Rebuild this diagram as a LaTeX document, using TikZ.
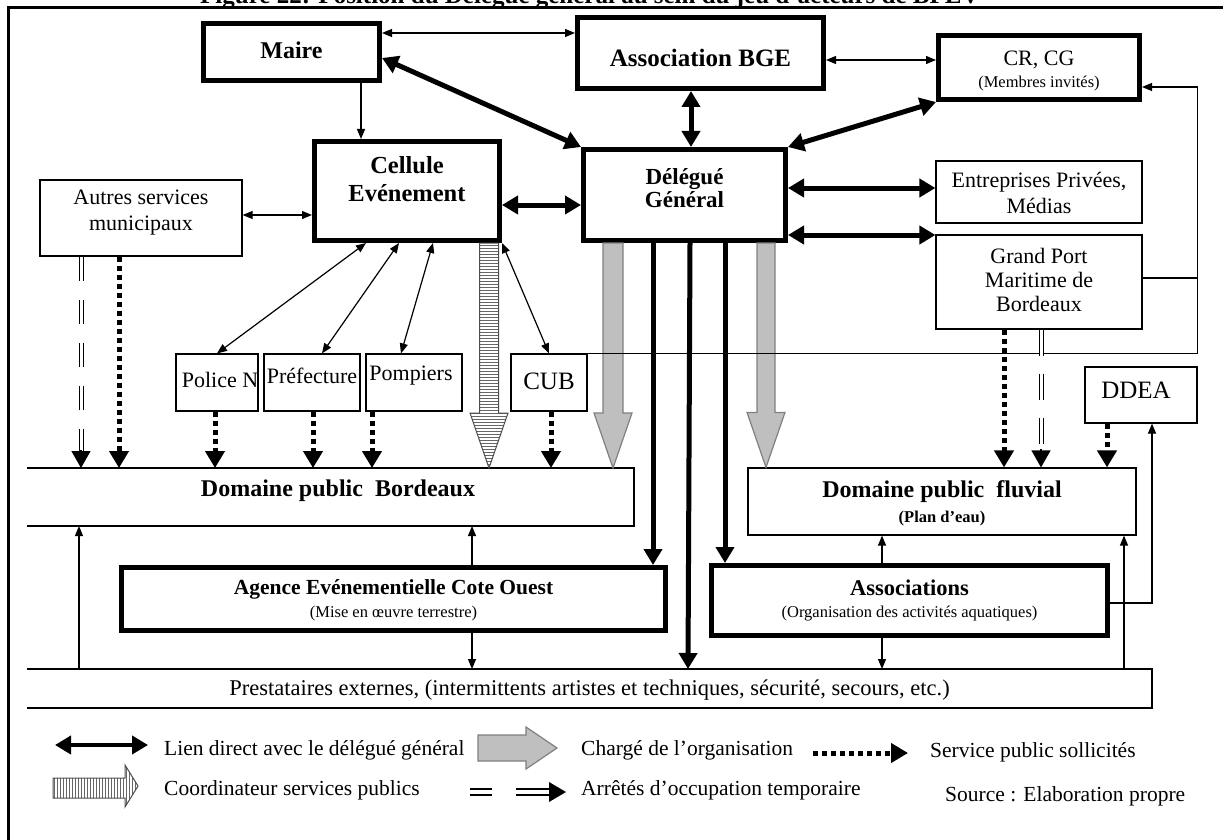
\documentclass[tikz,border=0pt]{standalone}
\usepackage{fontspec}
\setmainfont{Liberation Serif}
\usetikzlibrary{arrows.meta,calc,patterns}
\newcommand\petit{\fontsize{16.5}{19}\selectfont}
\newcommand\mkdownarrow[5]{%
  \draw[#1] let \p1=#2, \p2=#3 in
    (\x1-#4,\y1) -- (\x1-#4,\y2+55pt) -- (\x1-#5,\y2+55pt) -- (\x1,\y2)
    -- (\x1+#5,\y2+55pt) -- (\x1+#4,\y2+55pt) -- (\x1+#4,\y1) -- cycle;}
\begin{document}
\begin{tikzpicture}[x=1pt,y=-1pt,
  thickbox/.style={draw, line width=5pt, inner sep=0pt},
  thinbox/.style={draw, line width=1.2pt, inner sep=0pt},
  openbox/.style={inner sep=0pt, outer sep=0pt},
  lbl/.style={align=center, inner sep=0pt, text=black},
  legtxt/.style={inner sep=0pt, anchor=west, font=\fontsize{21.5}{24}\selectfont},
  conn/.style={line width=1.2pt},
  bigconn/.style={line width=5pt},
  sa/.tip={Triangle[length=10pt,width=8pt]},
  ba/.tip={Triangle[length=16pt,width=18pt]},
  da/.tip={Triangle[length=17pt,width=19pt]},
  dotconn/.style={line width=5pt, dash pattern=on 5pt off 4pt, -da},
  dblconn/.style={double, line width=1pt, double distance=3pt},
  greyarr/.style={fill=gray!50, draw=gray, line width=1.2pt},
  stripearr/.style={draw=black!70, line width=1pt, pattern=horizontal lines, pattern color=black!60},
]
\useasboundingbox (0,0) rectangle (1223,840);

% frame and (cut) title
\draw[line width=2.2pt] (8.5,850) -- (8.5,7.5) -- (1230,7.5);
\node[anchor=base west, inner sep=0pt, font=\fontsize{25}{25}\selectfont\bfseries] (title) at (200,3.5)
  {Figure 22: Position du Délégué général au sein du jeu d'acteurs de BPEV};

% ---------- nodes ----------
\node[thickbox, minimum width=176pt, minimum height=57pt,
  label={[lbl,font=\fontsize{24}{26}\selectfont\bfseries,yshift=2pt]center:Maire}] (maire) at (291.5,52) {};
\node[thickbox, minimum width=246pt, minimum height=71pt,
  label={[lbl,font=\fontsize{25}{26}\selectfont\bfseries,yshift=-4.5pt]center:Association BGE}] (bge) at (700.5,53) {};
\node[thickbox, minimum width=201pt, minimum height=64pt,
  label={[lbl,font=\fontsize{22}{22}\selectfont,yshift=-3.5pt]center:CR, CG\\{\petit(Membres invités)}}] (crcg) at (1039,67.5) {};
\node[thickbox, minimum width=202pt, minimum height=91pt,
  label={[lbl,font=\fontsize{23}{23}\selectfont\bfseries,yshift=6.5pt]center:Délégué\\Général}] (deleg) at (684.5,195) {};
\node[thickbox, minimum width=185pt, minimum height=99pt,
  label={[lbl,font=\fontsize{24.5}{28}\selectfont\bfseries,yshift=12pt]center:Cellule\\Evénement}] (cellule) at (407,191) {};
\node[thinbox, minimum width=202pt, minimum height=76pt,
  label={[lbl,font=\fontsize{22}{26}\selectfont,yshift=5pt]center:Autres services\\municipaux}] (autres) at (141,218) {};
\node[thinbox, minimum width=206pt, minimum height=62pt,
  label={[lbl,font=\fontsize{22}{26}\selectfont,yshift=-1pt]center:Entreprises Privées,\\Médias}] (entr) at (1039,192) {};
\node[thinbox, minimum width=206pt, minimum height=94pt,
  label={[lbl,font=\fontsize{22}{24}\selectfont,yshift=2pt]center:Grand Port\\Maritime de\\Bordeaux}] (gpmb) at (1039,282) {};

\node[thinbox, minimum width=82pt, minimum height=57pt,
  label={[lbl,font=\fontsize{22}{24}\selectfont,yshift=3pt,xshift=3pt]center:Police N}] (police) at (217,382.5) {};
\node[thinbox, minimum width=96pt, minimum height=57pt,
  label={[lbl,font=\fontsize{22}{24}\selectfont,yshift=6.5pt]center:Préfecture}] (pref) at (312,382.5) {};
\node[thinbox, minimum width=96pt, minimum height=57pt,
  label={[lbl,font=\fontsize{22}{24}\selectfont,yshift=6.5pt,xshift=-3pt]center:Pompiers}] (pomp) at (414,382.5) {};
\node[thinbox, minimum width=76pt, minimum height=57pt,
  label={[lbl,font=\fontsize{25}{26}\selectfont,yshift=1.5pt]center:CUB}] (cub) at (549,382.5) {};
\node[thinbox, minimum width=112pt, minimum height=56pt,
  label={[lbl,font=\fontsize{25}{26}\selectfont,yshift=5pt,xshift=-5pt]center:DDEA}] (ddea) at (1141,395) {};

\node[openbox, minimum width=607pt, minimum height=58pt,
  label={[lbl,font=\fontsize{24}{24}\selectfont\bfseries,yshift=6pt,xshift=7.5pt]center:Domaine public\ \ Bordeaux}] (dpb) at (330.5,497) {};
\draw[conn] (dpb.north west) -- (dpb.north east) -- (dpb.south east) -- (dpb.south west);
\node[thinbox, minimum width=388pt, minimum height=67pt,
  label={[lbl,font=\fontsize{24}{25}\selectfont\bfseries,yshift=-1.5pt]center:Domaine public\ \ fluvial\\{\petit\bfseries(Plan d'eau)}}] (dpf) at (942,501.5) {};

\node[thickbox, minimum width=544pt, minimum height=63pt,
  label={[lbl,font=\fontsize{21.5}{23}\selectfont\bfseries,yshift=-1pt]center:Agence Evénementielle Cote Ouest\\{\petit\mdseries(Mise en œuvre terrestre)}}] (agence) at (393.5,599) {};
\node[thickbox, minimum width=396pt, minimum height=70pt,
  label={[lbl,font=\fontsize{22.5}{22}\selectfont\bfseries]center:Associations\\{\petit\mdseries(Organisation des activités aquatiques)}}] (assoc) at (909.5,600.5) {};

\node[openbox, minimum width=1125pt, minimum height=39pt,
  label={[lbl,font=\fontsize{22.5}{24}\selectfont,yshift=-1.5pt]center:Prestataires externes, (intermittents artistes et techniques, sécurité, secours, etc.)}] (prest) at (589.5,688.5) {};
\draw[conn] (prest.north west) -- (prest.north east) -- (prest.south east) -- (prest.south west);

% ---------- block arrows ----------
\mkdownarrow{greyarr}{([xshift=-71.5pt]deleg.south)}{([xshift=-71.5pt]deleg.south |- dpb.north)}{10pt}{19pt}
\mkdownarrow{greyarr}{([xshift=81.5pt]deleg.south)}{([xshift=81.5pt]deleg.south |- dpf.north)}{9pt}{19pt}
\mkdownarrow{stripearr}{([xshift=82pt]cellule.south)}{([xshift=82pt]cellule.south |- dpb.north)}{9.5pt}{19pt}

% ---------- thin connectors ----------
\draw[conn, sa-sa] ([yshift=19pt]maire.east) -- ([yshift=19pt]maire.east -| bge.west);
\draw[conn, sa-sa] ([yshift=-7pt]bge.east) -- ([yshift=-7pt]bge.east -| crcg.west);
\draw[conn, -sa] ([xshift=69.5pt]maire.south) -- ([xshift=69.5pt]maire.south |- cellule.north);
\draw[conn, sa-sa] ([yshift=3pt]autres.east) -- ([yshift=3pt]autres.east -| cellule.west);
\draw[conn, sa-sa] ([xshift=-41pt]cellule.south) -- (police.north);
\draw[conn, sa-sa] ([xshift=-8pt]cellule.south) -- ([xshift=10pt]pref.north);
\draw[conn, sa-sa] ([xshift=26pt]cellule.south) -- ([xshift=-13pt]pomp.north);
\draw[conn, sa-sa] (cellule.south east) -- (cub.north);
\draw[conn, -sa] ([yshift=4pt]gpmb.east) -- ++(55,0) |- ([yshift=-19.5pt]crcg.east);
\draw[conn] (cub.north east) -- ++(610,0) -- ++(0,-76);
\draw[conn, -sa] ([xshift=-510.5pt]prest.north) -- ([xshift=-510.5pt]prest.north |- dpb.south);
\draw[conn, -sa] ([xshift=78.5pt]agence.north) -- ([xshift=78.5pt]agence.north |- dpb.south);
\draw[conn, -sa] ([xshift=78.5pt]agence.south) -- ([xshift=78.5pt]agence.south |- prest.north);
\draw[conn, -sa] ([xshift=-27.5pt]assoc.north) -- ([xshift=-27.5pt]assoc.north |- dpf.south);
\draw[conn, -sa] ([xshift=-27.5pt]assoc.south) -- ([xshift=-27.5pt]assoc.south |- prest.north);
\draw[conn, -sa] ([xshift=534.5pt]prest.north) -- ([xshift=534.5pt]prest.north |- dpf.south);
\draw[conn, -sa] ([yshift=-2.5pt]assoc.east) -| ([xshift=11pt]ddea.south);

% ---------- thick connectors ----------
\draw[bigconn, ba-ba] ([yshift=-6pt]maire.east) -- (deleg.north west);
\draw[bigconn, ba-ba] ([xshift=-9.5pt]bge.south) -- ([xshift=-9.5pt]bge.south |- deleg.north);
\draw[bigconn, ba-ba] (crcg.south west) -- (deleg.north east);
\draw[bigconn, ba-ba] ([yshift=-14pt]cellule.east) -- ([yshift=-14pt]cellule.east -| deleg.west);
\draw[bigconn, ba-ba] ([yshift=7pt]deleg.east) -- ([yshift=7pt]deleg.east -| entr.west);
\draw[bigconn, ba-ba] ([yshift=-40pt]deleg.east) -- ([yshift=-40pt]deleg.east -| gpmb.west);
\draw[bigconn, -ba] ([xshift=-31.5pt]deleg.south) -- ([xshift=-31.5pt]deleg.south |- agence.north);
\draw[bigconn, -ba] ([xshift=5.5pt]deleg.south) -- ([xshift=3.5pt]deleg.south |- prest.north);
\draw[bigconn, -ba] ([xshift=40.5pt]deleg.south) -- ([xshift=40.5pt]deleg.south |- assoc.north);

% ---------- dotted (service public) ----------
\draw[dotconn] ([xshift=-22pt]autres.south) -- ([xshift=-22pt]autres.south |- dpb.north);
\draw[dotconn] ([xshift=-2pt]police.south) -- ([xshift=-2pt]police.south |- dpb.north);
\draw[dotconn] ([xshift=1pt]pref.south) -- ([xshift=1pt]pref.south |- dpb.north);
\draw[dotconn] ([xshift=-42pt]pomp.south) -- ([xshift=-42pt]pomp.south |- dpb.north);
\draw[dotconn] ([xshift=2pt]cub.south) -- ([xshift=2pt]cub.south |- dpb.north);
\draw[dotconn] ([xshift=-35pt]gpmb.south) -- ([xshift=-35pt]gpmb.south |- dpf.north);
\draw[dotconn] ([xshift=-34pt]ddea.south) -- ([xshift=-34pt]ddea.south |- dpf.north);

% ---------- double dashed (arretes) ----------
\draw[dblconn, dash pattern=on 24pt off 19pt] ([xshift=-60pt]autres.south) -- ($([xshift=-60pt]autres.south |- dpb.north)+(0,-17)$);
\draw[conn, -da] ($([xshift=-60pt]autres.south |- dpb.north)+(0,-18)$) -- ([xshift=-60pt]autres.south |- dpb.north);
\draw[dblconn, dash pattern=on 26pt off 18pt] ([xshift=2pt]gpmb.south) -- ($([xshift=2pt]gpmb.south |- dpf.north)+(0,-17)$);
\draw[conn, -da] ($([xshift=2pt]gpmb.south |- dpf.north)+(0,-18)$) -- ([xshift=2pt]gpmb.south |- dpf.north);

% ---------- legend ----------
\draw[line width=4.5pt, ba-ba] (55,745) -- (148,745);
\node[legtxt] (leg1) at (164,750) {Lien direct avec le délégué général};
\draw[greyarr] (478,735) -- (526,735) -- (526,727) -- (557,748) -- (526,769) -- (526,761) -- (478,761) -- cycle;
\node[legtxt] (leg2) at (581,750) {Chargé de l'organisation};
\draw[line width=5pt, dash pattern=on 5pt off 4pt, -da] (813,753) -- (908,753);
\node[legtxt] (leg3) at (930,752) {Service public sollicités};
\draw[draw=black!70, line width=1pt, pattern=vertical lines, pattern color=black!60]
  (53,778) -- (125,778) -- (125,765) -- (138,786) -- (125,807) -- (125,798) -- (53,798) -- cycle;
\node[legtxt] (leg4) at (164,790) {Coordinateur services publics};
\draw[dblconn, line width=2pt, double distance=4pt] (470,792) -- (492,792);
\draw[dblconn, line width=2pt, double distance=4pt] (516,792) -- (550,792);
\fill (549,782) -- (566,792) -- (549,802) -- cycle;
\node[legtxt] (leg5) at (581,790) {Arrêtés d'occupation temporaire};
\node[legtxt] (leg6) at (945,796) {Source~: Elaboration propre};
\end{tikzpicture}
\end{document}
